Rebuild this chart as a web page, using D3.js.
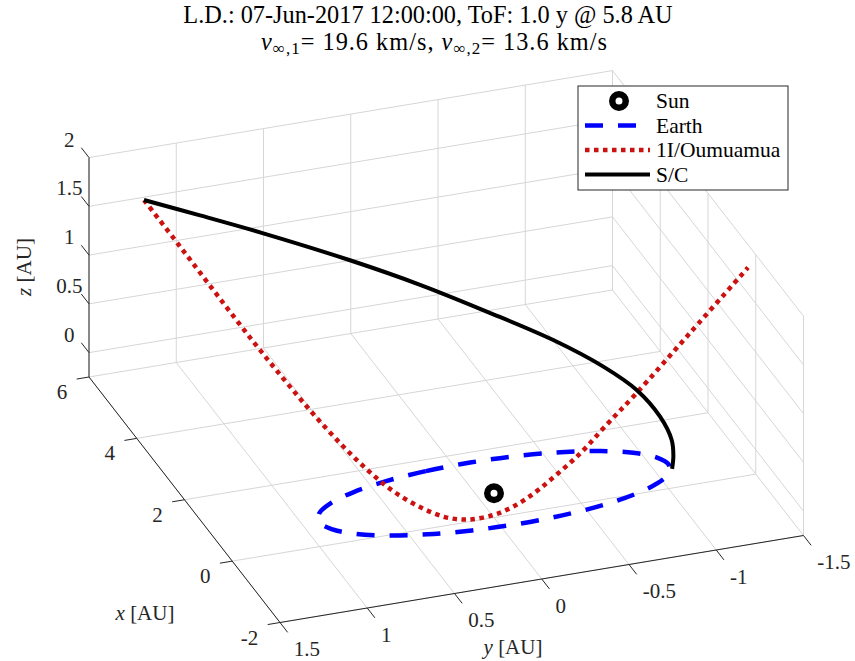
<!DOCTYPE html>
<html>
<head>
<meta charset="utf-8">
<script src="https://cdn.jsdelivr.net/npm/d3@7"></script>
<style>
  body { margin: 0; background: #fff; }
  text { font-family: "Liberation Serif", "Times New Roman", serif; }
</style>
</head>
<body>
<div id="chart"></div>
<script>
// axis limits and ticks
const xLim = [-2, 6];
const yLim = [-1.5, 1.5];
const zLim = [-0.25, 2];
const xTicks = [-2, 0, 2, 4, 6];
const yTicks = [-1.5, -1, -0.5, 0, 0.5, 1, 1.5];
const zTicks = [0, 0.5, 1, 1.5, 2];

// Sun
const sunX = [0];
const sunY = [0];
const sunZ = [0];

// Earth orbit (ecliptic)
const earthX = [1, 0.966, 0.866, 0.707, 0.5, 0.259, 0, -0.259, -0.5, -0.707, -0.866, -0.966,
    -1, -0.966, -0.866, -0.707, -0.5, -0.259, 0, 0.259, 0.5, 0.707, 0.866, 0.966];
const earthY = [0, 0.259, 0.5, 0.707, 0.866, 0.966, 1, 0.966, 0.866, 0.707, 0.5, 0.259,
    0, -0.259, -0.5, -0.707, -0.866, -0.966, -1, -0.966, -0.866, -0.707, -0.5, -0.259];
const earthZ = [0, 0, 0, 0, 0, 0, 0, 0, 0, 0, 0, 0, 0, 0, 0, 0, 0, 0, 0, 0, 0, 0, 0, 0];

// 1I/Oumuamua trajectory
const oumX = [5.407, 4.688, 3.976, 3.273, 2.710, 2.160, 1.636, 1.228, 0.847, 0.489, 0.198, -0.012,
    -0.181, -0.260, -0.308, -0.337, -0.354, -0.366, -0.362, -0.340, -0.312, -0.235, -0.150];
const oumY = [1.266, 1.158, 1.045, 0.932, 0.837, 0.740, 0.640, 0.554, 0.463, 0.357, 0.254, 0.151,
    0.029, -0.056, -0.136, -0.218, -0.311, -0.404, -0.482, -0.580, -0.775, -1.091, -1.435];
const oumZ = [1.682, 1.400, 1.098, 0.803, 0.573, 0.353, 0.155, 0.012, -0.106, -0.189, -0.231, -0.221,
    -0.158, -0.089, -0.008, 0.090, 0.211, 0.336, 0.448, 0.601, 0.896, 1.393, 1.935];

// spacecraft transfer (Earth -> intercept)
const scX = [-0.150, 0.059, 0.305, 0.689, 1.158, 1.604, 2.145, 2.763, 3.353, 3.919, 4.569, 5.018, 5.407];
const scY = [-1.000, -1.036, -1.060, -1.046, -0.976, -0.846, -0.633, -0.336, -0.035, 0.289, 0.697, 0.998, 1.266];
const scZ = [0.000, 0.056, 0.135, 0.257, 0.404, 0.542, 0.708, 0.894, 1.072, 1.242, 1.435, 1.567, 1.682];

const legendNames = ["Sun", "Earth", "1I/Oumuamua", "S/C"];

const width = 855, height = 661;

const svg = d3.select("#chart")
    .append("svg")
    .attr("width", width)
    .attr("height", height);

// 3D view: each axis maps onto a screen vector
const xS = d3.scaleLinear().domain(xLim).range([0, 1]);
const yS = d3.scaleLinear().domain([yLim[1], yLim[0]]).range([0, 1]);
const zS = d3.scaleLinear().domain(zLim).range([0, 1]);
const origin = [280, 622.5];
const ex = [-191, -245.5], ey = [523.5, -87], ez = [0, -219.4];

function proj(x, y, z) {
    const a = xS(x), b = yS(y), c = zS(z);
    return [origin[0] + a * ex[0] + b * ey[0] + c * ez[0],
            origin[1] + a * ex[1] + b * ey[1] + c * ez[1]];
}
function unit(v, s) {
    const l = Math.hypot(v[0], v[1]);
    return [v[0] / l * s, v[1] / l * s];
}

const gridColor = "#d6d6d6", axisColor = "#262626";
const grid = svg.append("g").attr("stroke", gridColor).attr("stroke-width", 1);
function seg(g, p, q, color) {
    g.append("line")
        .attr("x1", p[0]).attr("y1", p[1])
        .attr("x2", q[0]).attr("y2", q[1])
        .attr("stroke", color);
}

// floor
xTicks.forEach(t => seg(grid, proj(t, yLim[0], zLim[0]), proj(t, yLim[1], zLim[0])));
yTicks.forEach(t => seg(grid, proj(xLim[0], t, zLim[0]), proj(xLim[1], t, zLim[0])));
// back wall (x = 6)
yTicks.forEach(t => seg(grid, proj(xLim[1], t, zLim[0]), proj(xLim[1], t, zLim[1])));
zTicks.forEach(t => seg(grid, proj(xLim[1], yLim[0], t), proj(xLim[1], yLim[1], t)));
// side wall (y = -1.5)
xTicks.forEach(t => seg(grid, proj(t, yLim[0], zLim[0]), proj(t, yLim[0], zLim[1])));
zTicks.forEach(t => seg(grid, proj(xLim[0], yLim[0], t), proj(xLim[1], yLim[0], t)));

// axis lines
const axes = svg.append("g").attr("stroke-width", 1);
seg(axes, proj(xLim[0], yLim[1], zLim[0]), proj(xLim[1], yLim[1], zLim[0]), axisColor);
seg(axes, proj(xLim[0], yLim[0], zLim[0]), proj(xLim[0], yLim[1], zLim[0]), axisColor);
seg(axes, proj(xLim[1], yLim[1], zLim[0]), proj(xLim[1], yLim[1], zLim[1]), axisColor);

const tickLen = 12.5;
const fs = 21;
const zDir = unit(ex, tickLen);
const xDir = unit([-ey[0], -ey[1]], tickLen);
const yDir = unit([-ex[0], -ex[1]], tickLen);

zTicks.forEach(t => {
    const p = proj(xLim[1], yLim[1], t), q = [p[0] + zDir[0], p[1] + zDir[1]];
    seg(axes, p, q, axisColor);
    svg.append("text").attr("x", q[0] - 12).attr("y", q[1] - 1)
        .attr("text-anchor", "middle").attr("font-size", fs).attr("fill", axisColor)
        .text(t);
});
xTicks.forEach(t => {
    const p = proj(t, yLim[1], zLim[0]), q = [p[0] + xDir[0], p[1] + xDir[1]];
    seg(axes, p, q, axisColor);
    svg.append("text").attr("x", q[0] - 9.5).attr("y", q[1] + 20)
        .attr("text-anchor", "end").attr("font-size", fs).attr("fill", axisColor)
        .text(t);
});
yTicks.forEach(t => {
    const p = proj(xLim[0], t, zLim[0]), q = [p[0] + yDir[0], p[1] + yDir[1]];
    seg(axes, p, q, axisColor);
    svg.append("text").attr("x", q[0] + 6).attr("y", q[1] + 24)
        .attr("text-anchor", "start").attr("font-size", fs).attr("fill", axisColor)
        .text(t);
});

// axis labels
function axisLabel(letter, x, y, rot) {
    const t = svg.append("text")
        .attr("text-anchor", "middle")
        .attr("font-size", fs)
        .attr("fill", axisColor)
        .attr("transform", `translate(${x},${y})` + (rot ? ` rotate(${rot})` : ""));
    t.append("tspan").attr("font-style", "italic").text(letter);
    t.append("tspan").text(" [AU]");
}
axisLabel("x", 145, 620);
axisLabel("y", 513, 654);
axisLabel("z", 31, 267, -90);

// data
const line = d3.line().curve(d3.curveCatmullRom);
const closedLine = d3.line().curve(d3.curveCatmullRomClosed);

const earthPts = earthX.map((d, i) => proj(d, earthY[i], earthZ[i]));
const oumPts = oumX.map((d, i) => proj(d, oumY[i], oumZ[i]));
const scPts = scX.map((d, i) => proj(d, scY[i], scZ[i]));

const sunStyle = { r: 6.75, w: 6.5 };
svg.selectAll("circle.sun")
    .data(sunX.map((d, i) => proj(d, sunY[i], sunZ[i])))
    .enter()
    .append("circle")
    .attr("class", "sun")
    .attr("cx", d => d[0])
    .attr("cy", d => d[1])
    .attr("r", sunStyle.r)
    .attr("fill", "#fff")
    .attr("stroke", "#000")
    .attr("stroke-width", sunStyle.w);

const styles = [
    { color: "#0000ff", width: 4.5, dash: "18,15" },
    { color: "#cc1111", width: 4.5, dash: "4.5,4.5" },
    { color: "#000000", width: 4, dash: null }
];

svg.append("path")
    .attr("d", closedLine(earthPts))
    .attr("fill", "none")
    .attr("stroke", styles[0].color)
    .attr("stroke-width", styles[0].width)
    .attr("stroke-dasharray", styles[0].dash);

svg.append("path")
    .attr("d", line(oumPts))
    .attr("fill", "none")
    .attr("stroke", styles[1].color)
    .attr("stroke-width", styles[1].width)
    .attr("stroke-dasharray", styles[1].dash);

svg.append("path")
    .attr("d", line(scPts))
    .attr("fill", "none")
    .attr("stroke", styles[2].color)
    .attr("stroke-width", styles[2].width);

// legend
const lg = svg.append("g").attr("transform", "translate(578,86)");
lg.append("rect")
    .attr("width", 210).attr("height", 104)
    .attr("fill", "#fff").attr("stroke", axisColor).attr("stroke-width", 1);
legendNames.forEach((name, i) => {
    const y = 15 + i * 24.5;
    if (i === 0) {
        lg.append("circle").attr("cx", 41).attr("cy", y).attr("r", sunStyle.r)
            .attr("fill", "#fff").attr("stroke", "#000").attr("stroke-width", sunStyle.w);
    } else {
        const s = styles[i - 1];
        lg.append("line")
            .attr("x1", 7).attr("x2", 72).attr("y1", y).attr("y2", y)
            .attr("stroke", s.color).attr("stroke-width", s.width)
            .attr("stroke-dasharray", s.dash);
    }
    lg.append("text")
        .attr("x", 78).attr("y", y + 7)
        .attr("font-size", 21.5)
        .text(name);
});

// title
svg.append("text")
    .attr("x", 428).attr("y", 23)
    .attr("text-anchor", "middle")
    .attr("font-size", 24.3)
    .text("L.D.: 07-Jun-2017 12:00:00, ToF: 1.0 y @ 5.8 AU");

const t2 = svg.append("text")
    .attr("x", 434).attr("y", 50)
    .attr("text-anchor", "middle")
    .attr("font-size", 24.3)
    .attr("textLength", 346)
    .attr("lengthAdjust", "spacing");
[["v", "∞,1", "= 19.6 km/s, "], ["v", "∞,2", "= 13.6 km/s"]].forEach(p => {
    t2.append("tspan").attr("font-style", "italic").text(p[0]);
    t2.append("tspan").attr("font-size", 17).attr("dy", 4).text(p[1]);
    t2.append("tspan").attr("dy", -4).text(p[2]);
});
</script>
</body>
</html>
